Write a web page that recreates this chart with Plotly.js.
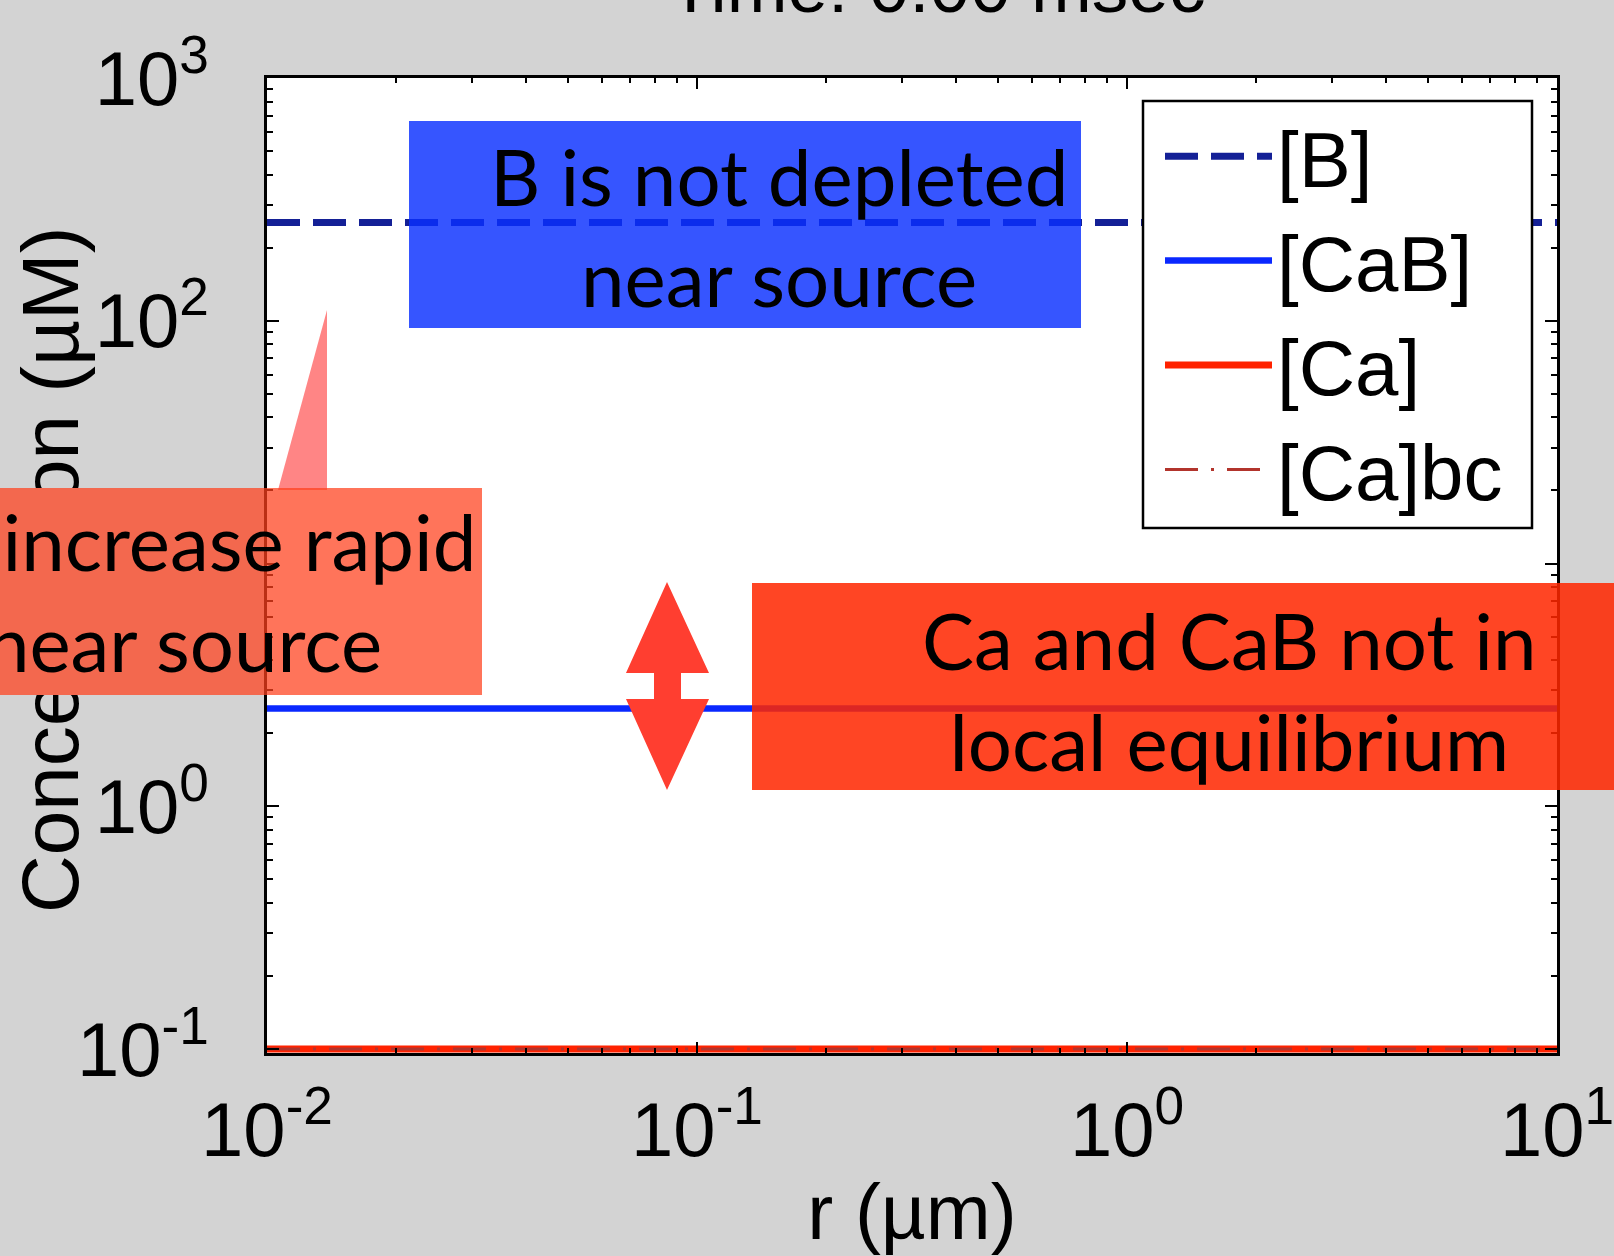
<!DOCTYPE html>
<html>
<head>
<meta charset="utf-8">
<script src="https://cdn.plot.ly/plotly-3.0.1.min.js"></script>
<style>
  html, body { margin: 0; padding: 0; background: #d3d3d3; }
  #chart { width: 1614px; height: 1256px; }
</style>
</head>
<body>
<div id="chart"></div>
<script>
// Radial profile at t = 0: distance from the channel mouth (µm)
const radius = [0.01, 0.02, 0.05, 0.1, 0.2, 0.5, 1, 2, 5, 10];
// Concentrations (µM)
const freeBuffer      = [254, 254, 254, 254, 254, 254, 254, 254, 254, 254];
const boundBuffer     = [2.53, 2.53, 2.53, 2.53, 2.53, 2.53, 2.53, 2.53, 2.53, 2.53];
const freeCalcium     = [0.1, 0.1, 0.1, 0.1, 0.1, 0.1, 0.1, 0.1, 0.1, 0.1];
const calciumBoundary = [0.1, 0.1, 0.1, 0.1, 0.1, 0.1, 0.1, 0.1, 0.1, 0.1];
const seriesNames = ['[B]', '[CaB]', '[Ca]', '[Ca]bc'];

// Axis ticks
const xTickVals = [0.01, 0.1, 1, 10];
const xTickText = ['10<sup>-2</sup>', '10<sup>-1</sup>', '10<sup>0</sup>', '10<sup>1</sup>'];
const xMinorVals = [0.02, 0.03, 0.04, 0.05, 0.06, 0.07, 0.08, 0.09,
                    0.2, 0.3, 0.4, 0.5, 0.6, 0.7, 0.8, 0.9,
                    2, 3, 4, 5, 6, 7, 8, 9];
const yTickVals = [0.1, 1, 10, 100, 1000];
const yTickText = ['10<sup>-1</sup>', '10<sup>0</sup>', '10<sup>1</sup>', '10<sup>2</sup>', '10<sup>3</sup>'];
const yMinorVals = [0.2, 0.3, 0.4, 0.5, 0.6, 0.7, 0.8, 0.9,
                    2, 3, 4, 5, 6, 7, 8, 9,
                    20, 30, 40, 50, 60, 70, 80, 90,
                    200, 300, 400, 500, 600, 700, 800, 900];
const yTitle = 'Concentration (µM)';

// Page geometry
const W = 1614, H = 1256;
const M = { l: 267, r: 57, t: 78, b: 203 };
const PW = W - M.l - M.r;
const PH = H - M.t - M.b;
const px = x => (x - M.l) / PW;          // page pixel -> paper x
const py = y => (M.t + PH - y) / PH;     // page pixel -> paper y
const pathFrom = pts => 'M' + pts.map(p => px(p[0]).toFixed(5) + ',' + py(p[1]).toFixed(5)).join(' L') + ' Z';

const plotFont = 'Liberation Sans, Arial, sans-serif';
const noteFont = 'Lato, Noto Sans, sans-serif';

const traces = [
  { x: radius, y: freeBuffer, name: seriesNames[0], mode: 'lines',
    line: { color: 'rgb(20,32,150)', width: 7, dash: '33px,13px' } },
  { x: radius, y: boundBuffer, name: seriesNames[1], mode: 'lines',
    line: { color: 'rgb(10,40,255)', width: 6.5 } },
  { x: radius, y: freeCalcium, name: seriesNames[2], mode: 'lines',
    line: { color: 'rgb(255,34,0)', width: 7 } },
  { x: radius, y: calciumBoundary, name: seriesNames[3], mode: 'lines',
    line: { color: 'rgb(178,52,44)', width: 3, dash: '33px,13px,3px,13px' } }
];

const axisCommon = {
  type: 'log',
  tickmode: 'array',
  ticks: 'inside',
  tickcolor: 'black',
  tickwidth: 2,
  showline: true,
  linecolor: 'black',
  linewidth: 3,
  mirror: 'ticks',
  showgrid: false,
  zeroline: false,
  automargin: false,
  ticklabeloverflow: 'allow',
  tickfont: { family: plotFont, size: 76, color: 'black' }
};

const layout = {
  width: W, height: H,
  margin: M,
  paper_bgcolor: '#d3d3d3',
  plot_bgcolor: 'white',
  showlegend: true,
  title: {
    text: 'Time: 0.00 msec',
    font: { family: plotFont, size: 73, color: 'black' },
    xref: 'paper', x: px(937), xanchor: 'center',
    yref: 'paper', y: 1, yanchor: 'bottom',
    pad: { b: 66 }
  },
  xaxis: Object.assign({}, axisCommon, {
    range: [-2, 1],
    tickvals: xTickVals, ticktext: xTickText,
    ticklen: 11,
    ticklabelstandoff: 9,
    minor: { tickmode: 'array', tickvals: xMinorVals, ticks: 'inside', ticklen: 5,
             tickwidth: 2, tickcolor: 'black', showgrid: false },
    title: { text: 'r (µm)', font: { family: plotFont, size: 78, color: 'black' }, standoff: 28 }
  }),
  yaxis: Object.assign({}, axisCommon, {
    range: [-1 - 4 / 242.75, 3],
    tickvals: yTickVals, ticktext: yTickText,
    ticklen: 12,
    ticklabelstandoff: 40,
    minor: { tickmode: 'array', tickvals: yMinorVals, ticks: 'inside', ticklen: 6,
             tickwidth: 2, tickcolor: 'black', showgrid: false }
  }),
  legend: {
    x: px(1160), y: py(99), xanchor: 'left', yanchor: 'top',
    bgcolor: 'rgba(0,0,0,0)', borderwidth: 0,
    font: { family: plotFont, size: 78, color: 'black' },
    itemwidth: 107,
    tracegroupgap: 0
  },
  shapes: [
    // legend frame
    { type: 'rect', xref: 'paper', yref: 'paper', layer: 'above',
      x0: px(1143), x1: px(1532), y0: py(528), y1: py(101),
      fillcolor: 'white', line: { color: 'black', width: 2.5 } },
    // pointer of the "increase rapid" callout
    { type: 'path', xref: 'paper', yref: 'paper', layer: 'above',
      path: pathFrom([[327, 310], [327, 490], [278, 490]]),
      fillcolor: 'rgba(255,0,0,0.48)', line: { width: 0 } },
    // blue callout box
    { type: 'rect', xref: 'paper', yref: 'paper', layer: 'above',
      x0: px(409), x1: px(1081), y0: py(328), y1: py(121),
      fillcolor: 'rgba(10,48,255,0.82)', line: { width: 0 } },
    // red callout box
    { type: 'rect', xref: 'paper', yref: 'paper', layer: 'above',
      x0: px(752), x1: px(1660), y0: py(790), y1: py(583),
      fillcolor: 'rgba(255,38,0,0.86)', line: { width: 0 } },
    // double-headed arrow between [Ca] and [CaB]
    { type: 'path', xref: 'paper', yref: 'paper', layer: 'above',
      path: pathFrom([[667, 582], [709, 673], [681, 673], [681, 699], [709, 699], [667, 790],
                      [626, 699], [654, 699], [654, 673], [626, 673]]),
      fillcolor: 'rgb(255,62,48)', line: { width: 0 } }
  ],
  annotations: [
    // y-axis title
    { text: yTitle, textangle: -90, showarrow: false, xref: 'paper', yref: 'paper',
      x: px(50), xanchor: 'center', y: py(570), yanchor: 'middle',
      font: { family: plotFont, size: 80, color: 'black' } },
    // backing strip so the salmon callout sits on plain paper
    { text: '', showarrow: false, xref: 'paper', yref: 'paper',
      x: px(-20), xanchor: 'left', y: py(488), yanchor: 'top',
      width: 284, height: 207, borderpad: 0, borderwidth: 0, bgcolor: '#d3d3d3' },
    { text: 'Ca increase rapid<br>near source', showarrow: false, xref: 'paper', yref: 'paper',
      x: px(-114), xanchor: 'left', y: py(488), yanchor: 'top',
      width: 596, height: 207, borderpad: 0, borderwidth: 0, align: 'center', valign: 'middle',
      bgcolor: 'rgba(255,65,29,0.73)',
      font: { family: noteFont, size: 78, color: 'black' } },
    { text: 'B is not depleted<br>near source', showarrow: false, xref: 'paper', yref: 'paper',
      x: px(779), xanchor: 'center', y: py(227), yanchor: 'middle',
      font: { family: noteFont, size: 78, color: 'black' } },
    { text: 'Ca and CaB not in<br>local equilibrium', showarrow: false, xref: 'paper', yref: 'paper',
      x: px(1229), xanchor: 'center', y: py(690), yanchor: 'middle',
      font: { family: noteFont, size: 78, color: 'black' } }
  ]
};

Plotly.newPlot('chart', traces, layout, { displayModeBar: false, staticPlot: true });
</script>
</body>
</html>
